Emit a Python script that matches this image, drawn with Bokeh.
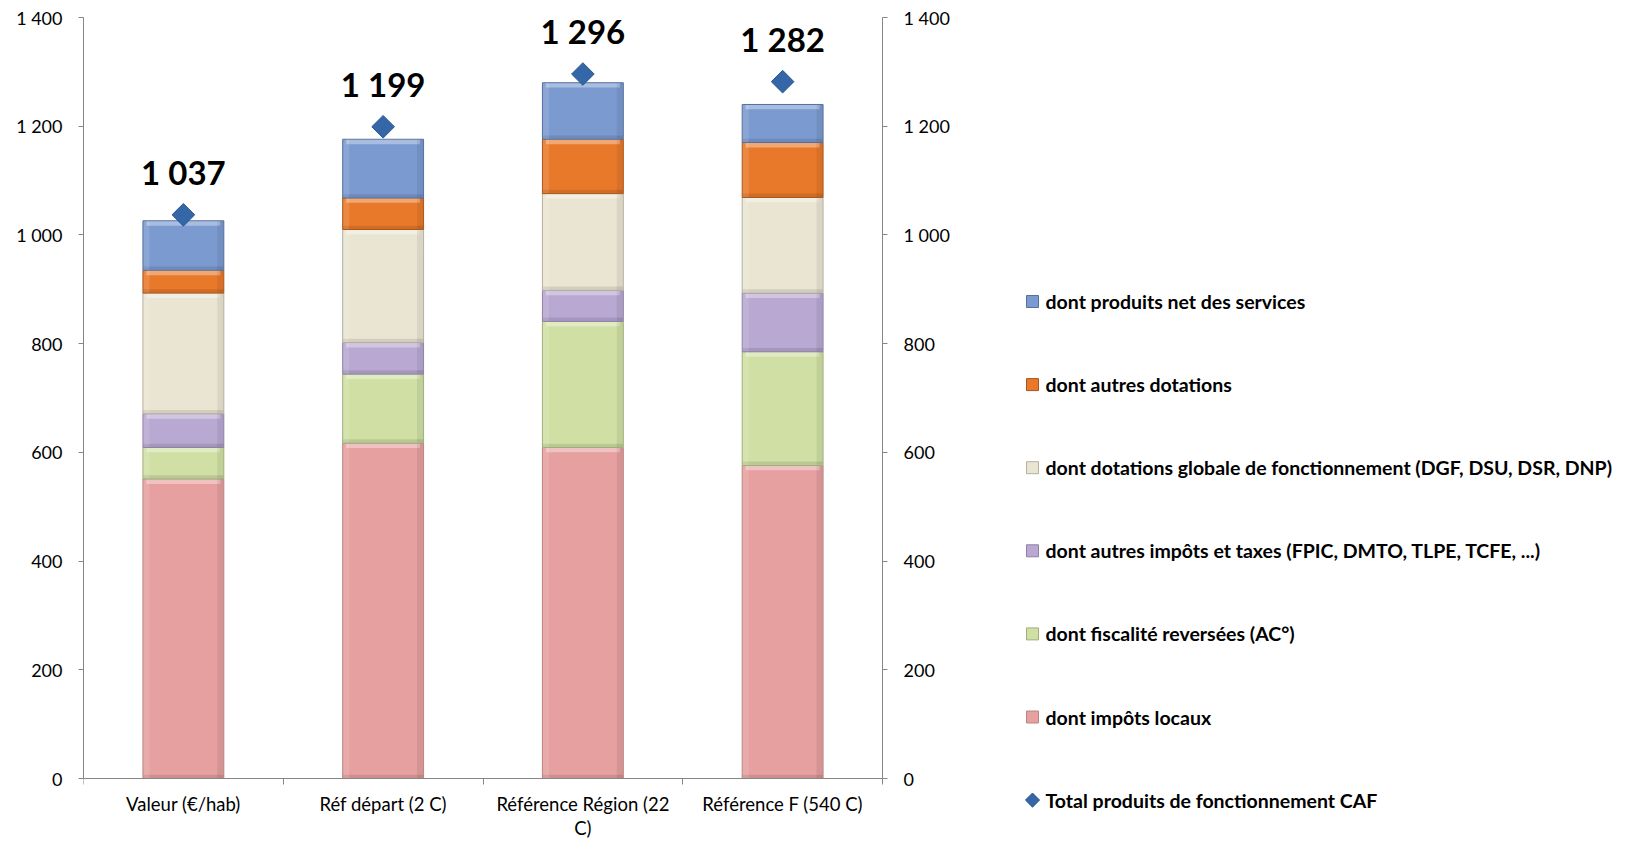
import numpy as np
from bokeh.plotting import figure
from bokeh.models import (Range1d, FixedTicker, LinearAxis, ColumnDataSource,
                          CustomJSTickFormatter)
from bokeh.core.properties import value
from bokeh.embed import file_html
from bokeh.resources import INLINE

# ---------------- data ----------------
categories = ["Valeur (€/hab)", "Réf départ (2 C)", "Référence Région (22 C)", "Référence F (540 C)"]
tick_labels = ["Valeur (€/hab)", "Réf départ (2 C)", "Référence Région (22\nC)", "Référence F (540 C)"]

impots_locaux = [551, 617, 609, 576]
fiscalite_reversee = [58, 127, 232, 209]
autres_impots = [62, 58, 57, 108]
dotation_globale = [222, 208, 178, 176]
autres_dotations = [42, 58, 100, 101]
produits_services = [91, 108, 104, 70]
total_caf = [1037, 1199, 1296, 1282]

series_keys = ["impots", "fiscalite", "autres_impots", "dgf", "autres_dot", "services"]
series_values = [impots_locaux, fiscalite_reversee, autres_impots, dotation_globale,
                 autres_dotations, produits_services]
series_names = ["dont impôts locaux",
                "dont fiscalité reversées (AC°)",
                "dont autres impôts et taxes (FPIC, DMTO, TLPE, TCFE, ...)",
                "dont dotations globale de fonctionnement (DGF, DSU, DSR, DNP)",
                "dont autres dotations",
                "dont produits net des services"]
total_name = "Total produits de fonctionnement CAF"
y_ticks = [0, 200, 400, 600, 800, 1000, 1200, 1400]
Y_MAX = 1400

# ---------------- styles / layout ----------------
fill_colors = ["#E6A09F", "#D0E0A4", "#B8A8D2", "#EAE5D3", "#E9792A", "#7B9AD0"]
line_colors = ["#B98483", "#9FAE7C", "#8E80A6", "#B5B09F", "#A9561C", "#56709C"]
diamond_fill = "#3567A8"
diamond_line = "#2A5790"
axis_color = "#868686"
FONT = "Lato"

W, H = 1625, 842
FRAME_L = 83          # left axis line (px)
PLOT_R = 882          # right axis line (px)
PLOT_T = 17           # y = 1400 (px)
PLOT_B = 778          # y = 0 (px)
BAR_W = 0.405
n_cat = len(categories)
px_x = (PLOT_R - FRAME_L) / n_cat
px_y = (PLOT_B - PLOT_T) / Y_MAX
x_end = (W - FRAME_L) / px_x
y_start = -(H - PLOT_B) / px_y
y_end = Y_MAX + PLOT_T / px_y

xs = [i + 0.5 for i in range(n_cat)]
data = {"x": xs}
for k, v in zip(series_keys, series_values):
    data[k] = v
source = ColumnDataSource(data)

p = figure(width=W, height=H, output_backend="svg", toolbar_location=None,
           x_range=Range1d(0, x_end), y_range=Range1d(y_start, y_end),
           min_border_left=FRAME_L, min_border_right=0, min_border_top=0,
           min_border_bottom=0)
p.outline_line_color = None
p.xgrid.visible = False
p.ygrid.visible = False
p.background_fill_color = "white"
p.border_fill_color = "white"

renderers = p.vbar_stack(series_keys, x="x", width=BAR_W, source=source,
                         fill_color=fill_colors, line_color=line_colors, line_width=1)

# bevel-like highlights / shadows derived from the stacked values
cum = np.cumsum(np.array(series_values, dtype=float), axis=0)
bottoms = np.vstack([np.zeros(len(xs)), cum[:-1]])
xs_arr = np.array(xs)
edge_w = 0.03
for i in range(len(series_keys)):
    tops = cum[i]
    bots = bottoms[i]
    p.vbar(x=xs, top=tops - 1, bottom=tops - 9, width=BAR_W - 0.035, fill_color="white",
           fill_alpha=0.35, line_color=None)
    p.vbar(x=xs, top=bots + 7, bottom=bots + 1, width=BAR_W - 0.005, fill_color="black",
           fill_alpha=0.10, line_color=None)
    p.vbar(x=xs_arr - BAR_W / 2 + edge_w / 2 + 0.003, top=tops - 1, bottom=bots + 1,
           width=edge_w, fill_color="white", fill_alpha=0.12, line_color=None)
    p.vbar(x=xs_arr + BAR_W / 2 - edge_w / 2 - 0.003, top=tops - 1, bottom=bots + 1,
           width=edge_w, fill_color="black", fill_alpha=0.07, line_color=None)

p.scatter(x=xs, y=total_caf, marker="square", angle=np.pi / 4, size=16,
          fill_color=diamond_fill, line_color=diamond_line, line_width=1)

label_texts = [f"{v:,}".replace(",", " ") for v in total_caf]
p.text(x=xs, y=total_caf, text=label_texts, text_font=value(FONT),
       text_font_style="bold", text_font_size="33px", text_align="center",
       text_baseline="middle", y_offset=-43, text_color="black")

# ---------------- axes ----------------
fmt = CustomJSTickFormatter(code="""
    const t = Math.round(tick);
    if (t >= 1000) { return Math.floor(t/1000) + ' ' + String(t % 1000).padStart(3, '0'); }
    return String(t);
""")

yl = p.yaxis[0]
yl.ticker = FixedTicker(ticks=y_ticks)
yl.formatter = fmt
yl.bounds = (0, Y_MAX)
yr = LinearAxis(ticker=FixedTicker(ticks=y_ticks), formatter=fmt,
                fixed_location=n_cat, bounds=(0, Y_MAX))
p.add_layout(yr, "right")
for ax in (yl, yr):
    ax.axis_line_color = axis_color
    ax.major_tick_line_color = axis_color
    ax.major_tick_in = 0
    ax.major_tick_out = 5
    ax.minor_tick_line_color = None
    ax.major_label_text_font = FONT
    ax.major_label_text_font_size = "18px"
    ax.major_label_text_color = "black"
    ax.major_label_standoff = 16

xa = p.xaxis[0]
xa.fixed_location = 0
xa.bounds = (0, n_cat)
xa.ticker = FixedTicker(ticks=xs, minor_ticks=list(range(n_cat + 1)))
xa.formatter = CustomJSTickFormatter(args=dict(labels=tick_labels),
                                     code="return labels[Math.floor(tick)];")
xa.axis_line_color = axis_color
xa.major_tick_line_color = None
xa.major_tick_in = 0
xa.major_tick_out = 0
xa.minor_tick_line_color = axis_color
xa.minor_tick_in = 0
xa.minor_tick_out = 6
xa.major_label_text_font = FONT
xa.major_label_text_font_size = "18.5px"
xa.major_label_text_line_height = 1.12
xa.major_label_text_color = "black"
xa.major_label_standoff = 8

# ---------------- legend (drawn with glyphs to the right of the chart) ----------------
LEG_MARK_PX = 1032
LEG_TEXT_PX = 1045
LEG_TOP_PX = 301
LEG_STEP_PX = 83.1
leg_names = list(reversed(series_names)) + [total_name]
leg_fill = list(reversed(fill_colors)) + [diamond_fill]
leg_line = list(reversed(line_colors)) + [diamond_line]
leg_angle = [0.0] * 6 + [np.pi / 4]
leg_size = [12] * 6 + [10]
leg_y = [(PLOT_B - (LEG_TOP_PX + LEG_STEP_PX * k)) / px_y for k in range(len(leg_names))]
leg_src = ColumnDataSource(dict(y=leg_y, name=leg_names, fill=leg_fill, line=leg_line,
                                angle=leg_angle, size=leg_size))
p.scatter(x=(LEG_MARK_PX - FRAME_L) / px_x, y="y", marker="square", angle="angle",
          size="size", fill_color="fill", line_color="line", line_width=1, source=leg_src)
p.text(x=(LEG_TEXT_PX - FRAME_L) / px_x, y="y", text="name", source=leg_src,
       text_font=value(FONT), text_font_style="bold", text_font_size="19.5px",
       text_align="left", text_baseline="middle", text_color="black")

open("out.html", "w").write(file_html(p, INLINE))
